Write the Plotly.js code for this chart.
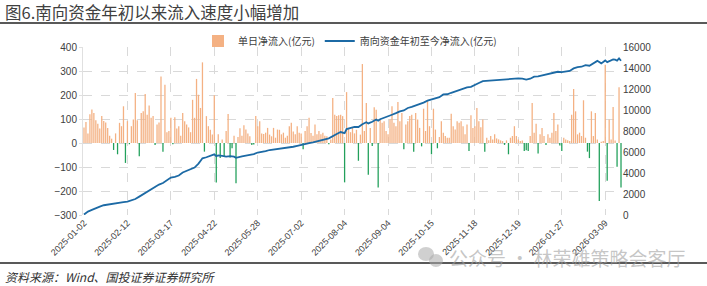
<!DOCTYPE html>
<html><head><meta charset="utf-8">
<script src="https://cdn.plot.ly/plotly-3.0.1.min.js"></script>
<style>html,body{margin:0;padding:0;background:#fff;}#chart{width:707px;height:286px;}</style>
</head><body><div id="chart"></div>
<script>
// Tick labels (trading-day index of each label)
const tickLabels = ["2025-01-02","2025-02-12","2025-03-17","2025-04-22","2025-05-28","2025-07-02","2025-08-04","2025-09-04","2025-10-15","2025-11-18","2025-12-19","2026-01-27","2026-03-09"];
const tickIdx = [0,22,44,66,88,110,132,154,176,198,220,242,264];

// Daily southbound net inflow (亿元), one per trading day
const dailyFlow = [
65,88,40,120,140,125,95,80,60,112,92,85,62,30,18,-29,40,-47,84,70,153,-83,
91,-5,70,98,208,95,-55,125,132,204,118,156,105,112,-8,77,85,277,-36,243,45,50,
105,-5,107,60,70,30,125,91,77,65,45,180,105,267,201,146,336,-36,112,70,55,35,
199,-165,36,-63,15,-54,50,121,-60,-22,30,-168,25,61,30,74,56,40,28,-8,-6,112,
70,91,40,38,43,63,35,28,63,22,56,55,36,43,22,30,70,84,48,36,70,43,
40,-26,50,70,105,42,30,77,36,50,36,43,30,28,-5,15,187,118,112,116,118,112,
-164,212,60,45,63,40,55,-74,35,329,50,167,-132,63,-12,149,139,-185,98,84,91,50,
36,98,153,84,70,171,91,125,-26,77,91,112,118,-36,125,98,63,-14,143,50,174,70,
-47,143,56,-22,25,91,43,29,22,22,122,70,56,91,84,91,70,36,77,-33,116,63,
70,146,91,66,98,-36,22,11,29,15,36,19,15,11,8,-8,11,-47,22,29,70,29,
15,8,10,-33,-30,-33,29,167,43,80,-44,36,63,29,-8,36,22,43,125,50,77,-10,
-33,22,15,11,8,118,225,132,36,43,29,178,22,-36,-63,132,29,125,15,-242,5,8,
326,-157,98,15,150,10,-99,232,-185
];

// Cumulative year-to-date net inflow (亿元), read at these trading-day indices
const cumIdx = [0,2,4,6,8,10,12,14,16,18,20,22,24,26,28,30,32,34,36,38,40,42,44,46,48,50,52,54,56,58,60,62,64,66,67,68,70,72,74,76,77,78,80,82,84,86,88,90,92,94,96,98,100,102,104,106,108,110,112,114,116,118,120,122,124,126,128,130,132,133,135,137,139,141,143,144,146,148,149,150,152,154,156,158,160,162,164,166,168,170,172,174,176,178,180,182,184,186,188,190,192,194,196,198,200,202,204,206,208,210,212,214,216,218,220,222,224,226,228,230,232,234,236,238,240,242,244,246,248,250,252,254,256,258,260,262,264,265,266,268,269,270,271,272];
const cumFlow = [40,330,480,680,800,930,1000,1060,1110,1160,1220,1270,1380,1520,1750,1980,2200,2420,2680,2900,3050,3350,3560,3640,3760,4050,4200,4330,4520,4900,5400,5500,5620,5780,5600,5680,5640,5560,5600,5560,5440,5500,5580,5650,5700,5800,5950,6000,6080,6190,6230,6290,6330,6380,6440,6500,6590,6660,6700,6840,6920,7040,7140,7210,7300,7530,7720,7900,7790,8180,8290,8400,8380,8650,8830,8720,8880,9100,8980,9120,9260,9380,9550,9700,9870,9960,10190,10300,10420,10560,10700,10890,11000,11130,11220,11480,11500,11640,11760,11910,12050,12150,12200,12420,12570,12750,12780,12820,12860,12880,12900,12900,12920,12980,13010,12990,12900,12980,13180,13200,13300,13350,13480,13560,13640,13600,13650,13720,13960,14080,14120,14280,14220,14420,14680,14440,14720,14560,14640,14820,14790,14700,14920,14690];

const W = 707, H = 286;
const M = {l:83, r:85, t:47, b:71};
const PW = W - M.l - M.r, PH = H - M.t - M.b;
const px = x => (x - M.l) / PW;
const py = y => (H - M.b - y) / PH;

const idx = dailyFlow.map((_, i) => i);
const posY = dailyFlow.map(v => v >= 0 ? v : null);
const negY = dailyFlow.map(v => v < 0 ? v : null);

const ORANGE = '#f4b183', GREEN = '#22a05b', BLUE = '#1c6aa5';
const FONT = 'Liberation Sans, Arial, sans-serif';
const CJK = 'Noto Sans CJK SC, sans-serif';

const traces = [
  {type:'bar', x: idx, y: posY, name:'单日净流入(亿元)', marker:{color: ORANGE}, yaxis:'y', hoverinfo:'skip'},
  {type:'scatter', mode:'lines', x: cumIdx, y: cumFlow, name:'南向资金年初至今净流入(亿元)', line:{color: BLUE, width: 1.8}, yaxis:'y2', hoverinfo:'skip'},
  {type:'bar', x: idx, y: negY, name:'neg', showlegend:false, marker:{color: GREEN}, yaxis:'y', hoverinfo:'skip'}
];

const layout = {
  width: W, height: H,
  margin: M,
  paper_bgcolor:'#fff', plot_bgcolor:'#fff',
  barmode:'overlay', bargap: 0.35,
  showlegend: true,
  legend: {orientation:'h', x: px(198), y: py(41), xanchor:'left', yanchor:'middle',
           font:{family: CJK, size: 10, color:'#404040'}, bgcolor:'rgba(0,0,0,0)', itemwidth: 30, tracegroupgap: 0},
  xaxis: {
    range: [-0.5, dailyFlow.length - 0.5],
    tickmode:'array', tickvals: tickIdx, ticktext: tickLabels, tickangle: -45,
    tickfont:{family: FONT, size: 9, color:'#404040'},
    showgrid: true, gridcolor:'#d9d9d9', griddash:'dash', gridwidth: 1,
    zeroline:false, showline:false, ticks:''
  },
  yaxis: {
    range: [-300, 400], dtick: 100, tick0: 0,
    tickfont:{family: FONT, size: 10, color:'#404040'},
    showgrid: true, gridcolor:'#d9d9d9', griddash:'dash', gridwidth: 1,
    zeroline:false, showline:true, linecolor:'#e0e0e0', ticks:'outside', ticklen: 3, tickcolor:'#e0e0e0'
  },
  yaxis2: {
    range: [0, 16000], dtick: 2000, tick0: 0, overlaying:'y', side:'right',
    tickformat:'d', separatethousands:false,
    tickfont:{family: FONT, size: 10, color:'#404040'},
    showgrid:false, zeroline:false, showline:false, ticks:''
  },
  shapes: [
    {type:'line', xref:'paper', yref:'paper', x0: px(0), x1: px(W), y0: py(23), y1: py(23), line:{color:'#595959', width:2}},
    {type:'line', xref:'paper', yref:'paper', x0: px(0), x1: px(W), y0: py(263), y1: py(263), line:{color:'#595959', width:2}},
    {type:'circle', xref:'paper', yref:'paper', x0: px(418), x1: px(434), y0: py(247), y1: py(261), fillcolor:'rgba(170,170,170,0.55)', line:{width:0}},
    {type:'circle', xref:'paper', yref:'paper', x0: px(429), x1: px(443), y0: py(254), y1: py(267), fillcolor:'rgba(170,170,170,0.55)', line:{width:0}}
  ],
  annotations: [
    {xref:'paper', yref:'paper', x: px(3), y: py(12), xanchor:'left', yanchor:'middle', showarrow:false,
     text:'图6.南向资金年初以来流入速度小幅增加', font:{family: CJK, size: 16.5, color:'#404040'}},
    {xref:'paper', yref:'paper', x: px(3), y: py(276), xanchor:'left', yanchor:'middle', showarrow:false,
     text:'<i>资料来源：Wind、国投证券证券研究所</i>', font:{family: CJK, size: 12, color:'#333333'}},
    {xref:'paper', yref:'paper', x: px(447), y: py(257), xanchor:'left', yanchor:'middle', showarrow:false,
     text:'公众号 · 林荣雄策略会客厅', font:{family: CJK, size: 19, color:'rgba(160,160,160,0.6)'}}
  ]
};

Plotly.newPlot('chart', traces, layout, {staticPlot:true, displayModeBar:false});
</script>
</body></html>
